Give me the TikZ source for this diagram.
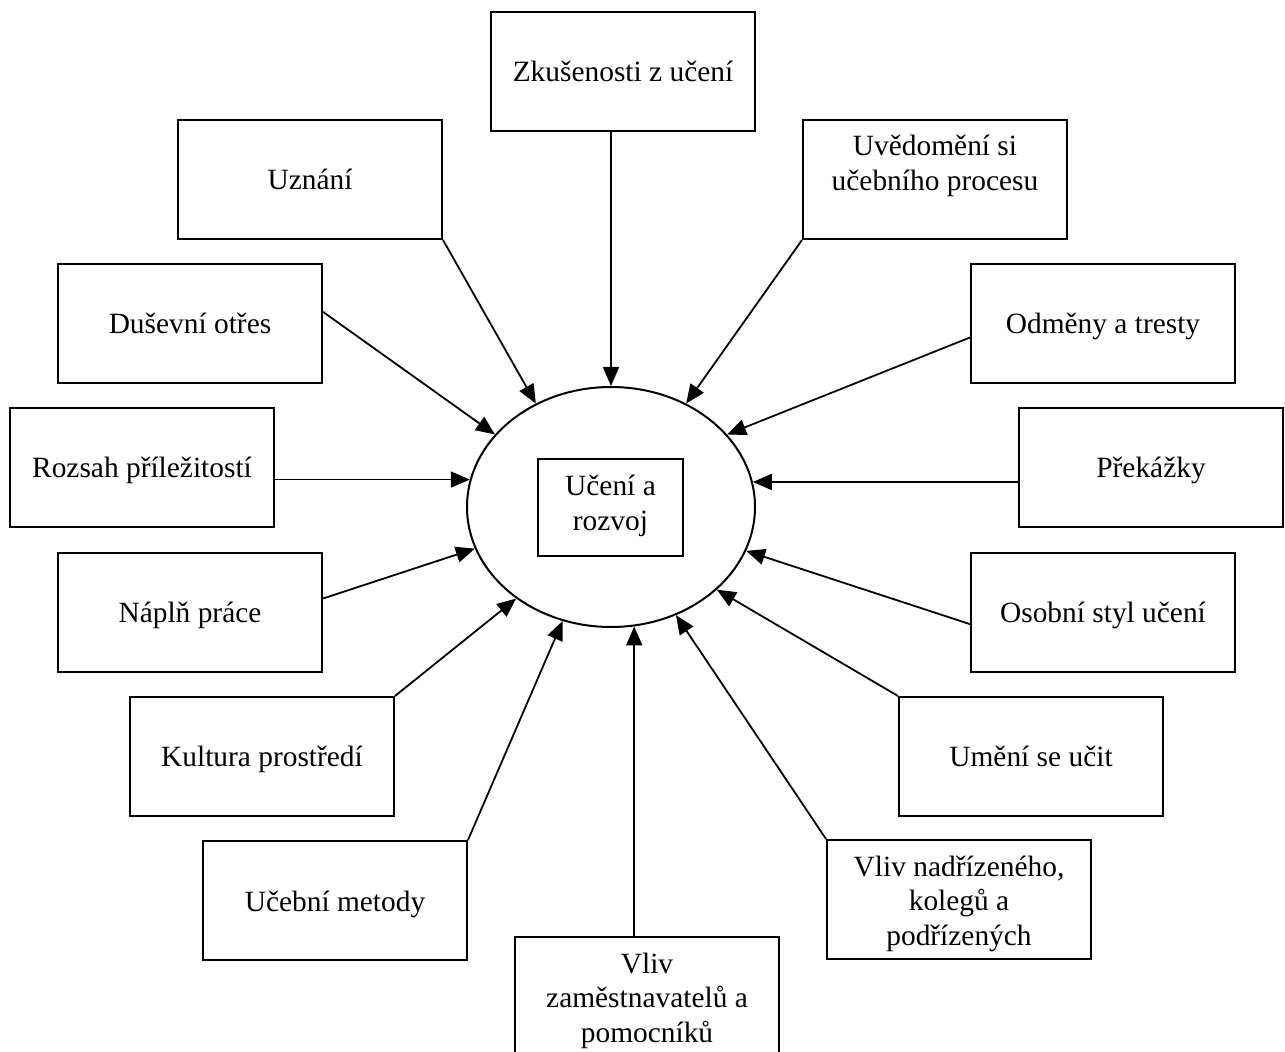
\documentclass[tikz,border=0pt]{standalone}
\usepackage{fontspec}
\setmainfont{Liberation Serif}
\usetikzlibrary{arrows.meta,calc,shapes.geometric}
% centred multi-line text whose baseline is that of its first line
\newcommand{\stack}[1]{\begin{tabular}[t]{@{}c@{}}#1\end{tabular}}

\begin{document}
\begin{tikzpicture}[x=0.5pt,y=-0.5pt,
  frame/.style={draw,line width=1pt,minimum width=132pt,minimum height=59.5pt,inner sep=0pt},
  caption/.style={anchor=base,inner sep=0pt,font=\fontsize{14.7}{17.3}\selectfont},
  link/.style={line width=0.9pt,-{Triangle[length=9.5pt,width=8pt]}}]
\useasboundingbox (0,0) rectangle (1285,1052);

% central ellipse with its box
\node[ellipse,draw,line width=1pt,minimum width=144pt,minimum height=120pt,inner sep=0pt] (core) at (611,507) {};
\node[draw,line width=1pt,minimum width=72.5pt,minimum height=48.5pt,inner sep=0pt] (inner) at (610.5,507.5) {};
\node[caption] (inner-t) at ($(inner.north)+(0,38)$) {\stack{Učení a\\rozvoj}};

% surrounding factor boxes
\node[frame] (zk) at (623,71.5) {};
\node[frame] (uz) at (310,179.5) {};
\node[frame] (uv) at (935,179.5) {};
\node[frame] (du) at (190,323.5) {};
\node[frame] (od) at (1103,323.5) {};
\node[frame] (ro) at (142,467.5) {};
\node[frame] (pr) at (1151,467.5) {};
\node[frame] (na) at (190,612.5) {};
\node[frame] (os) at (1103,612.5) {};
\node[frame] (ku) at (262,756.5) {};
\node[frame] (um) at (1031,756.5) {};
\node[frame] (ub) at (335,900.5) {};
\node[frame] (vn) at (959,899.5) {};
\node[frame] (vz) at (647,996.5) {};

% box texts
\node[caption] (zk-t) at ($(zk.north)+(0,71)$) {\stack{Zkušenosti z učení}};
\node[caption] (uz-t) at ($(uz.north)+(0,71)$) {\stack{Uznání}};
\node[caption] (uv-t) at ($(uv.north)+(0,37)$) {\stack{Uvědomění si\\učebního procesu}};
\node[caption] (du-t) at ($(du.north)+(0,71)$) {\stack{Duševní otřes}};
\node[caption] (od-t) at ($(od.north)+(0,71)$) {\stack{Odměny a tresty}};
\node[caption] (ro-t) at ($(ro.north)+(0,71)$) {\stack{Rozsah příležitostí}};
\node[caption] (pr-t) at ($(pr.north)+(0,71)$) {\stack{Překážky}};
\node[caption] (na-t) at ($(na.north)+(0,71)$) {\stack{Náplň práce}};
\node[caption] (os-t) at ($(os.north)+(0,71)$) {\stack{Osobní styl učení}};
\node[caption] (ku-t) at ($(ku.north)+(0,71)$) {\stack{Kultura prostředí}};
\node[caption] (um-t) at ($(um.north)+(0,71)$) {\stack{Umění se učit}};
\node[caption] (ub-t) at ($(ub.north)+(0,71)$) {\stack{Učební metody}};
\node[caption] (vn-t) at ($(vn.north)+(0,37)$) {\stack{Vliv nadřízeného,\\kolegů a\\podřízených}};
\node[caption] (vz-t) at ($(vz.north)+(0,37)$) {\stack{Vliv\\zaměstnavatelů a\\pomocníků}};

% arrows towards the centre
\draw[link] (zk.south -| core.north) -- (core.north);
\draw[link] (uz.south east) -- (core.126);
\draw[link] (uv.south west) -- (core.54);
\draw[link] (du.5) -- (core.148);
\draw[link] (od.186) -- (core.32);
\draw[link] (core.169.5 -| ro.east) -- (core.169.5);
\draw[link] (core.10.6 -| pr.west) -- (core.10.6);
\draw[link] (na.6) -- (core.197);
\draw[link] (os.185) -- (core.342.6);
\draw[link] (ku.north east) -- (core.224.4);
\draw[link] (um.north west) -- (core.322.2);
\draw[link] (ub.north east) -- (core.247.9);
\draw[link] (vn.north west) -- (core.301.5);
\draw[link] (vz.north -| core.281.4) -- (core.281.4);
\end{tikzpicture}
\end{document}
